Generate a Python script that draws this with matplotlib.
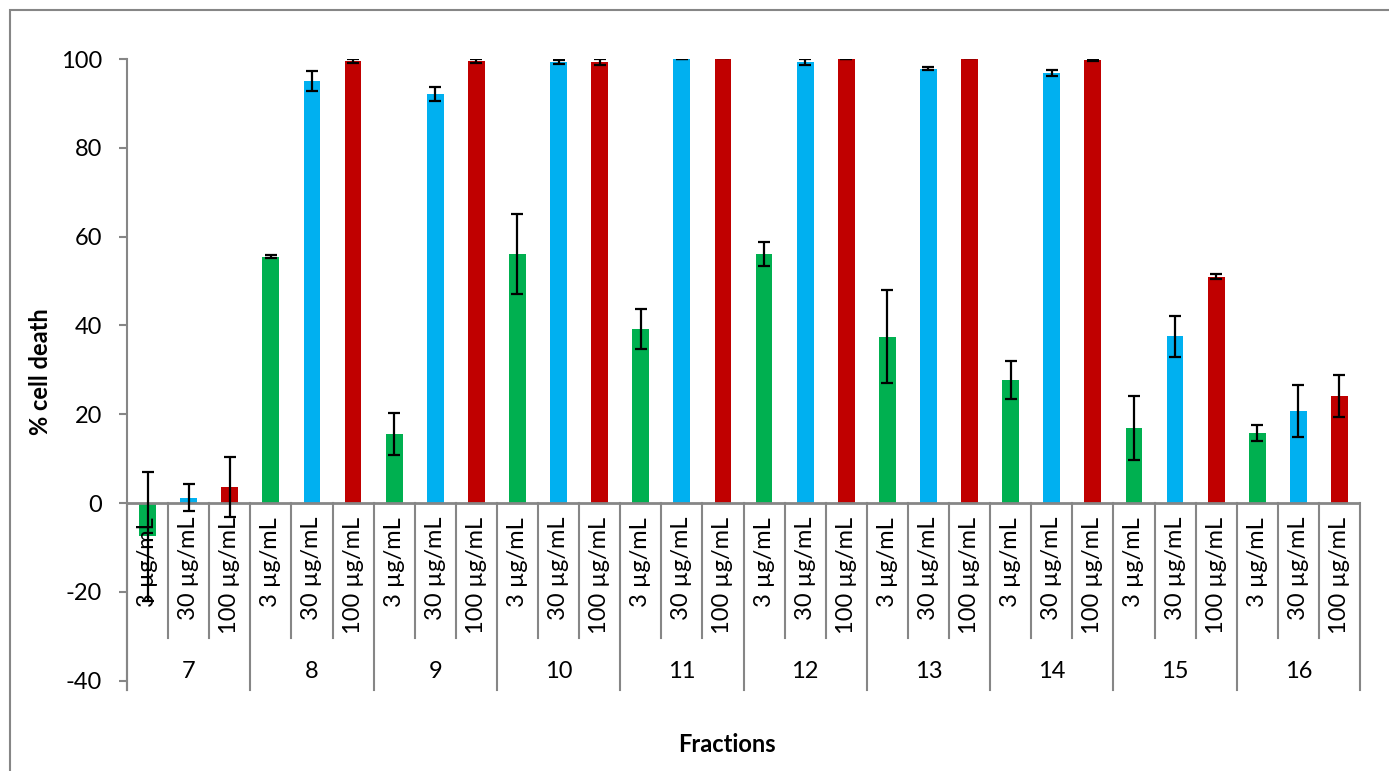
import numpy as np
import matplotlib
matplotlib.use("Agg")
from matplotlib import pyplot as plt
from matplotlib.patches import Rectangle

plt.rcParams['font.family'] = ['Lato', 'DejaVu Sans']
plt.rcParams['axes.unicode_minus'] = False

fractions = ['7', '8', '9', '10', '11', '12', '13', '14', '15', '16']
doses = ['3 µg/mL', '30 µg/mL', '100 µg/mL']
colors = ['#00B050', '#00B0F0', '#C00000']

# mean % cell death per fraction, one list per dose
death_3 = [-7.5, 55.5, 15.5, 56.0, 39.2, 56.0, 37.5, 27.7, 16.9, 15.8]
death_30 = [1.2, 95.0, 92.1, 99.3, 100.0, 99.3, 97.8, 96.8, 37.6, 20.7]
death_100 = [3.6, 99.5, 99.5, 99.3, 100.3, 100.0, 100.3, 99.7, 51.0, 24.1]
# standard deviations
sd_3 = [14.5, 0.3, 4.7, 9.0, 4.6, 2.7, 10.4, 4.3, 7.2, 1.8]
sd_30 = [3.1, 2.2, 1.5, 0.5, 0.1, 0.7, 0.3, 0.7, 4.6, 5.9]
sd_100 = [6.8, 0.5, 0.4, 0.6, 0.0, 0.1, 0.0, 0.2, 0.6, 4.8]

means = [death_3, death_30, death_100]
sds = [sd_3, sd_30, sd_100]

fs = 17

fig = plt.figure(figsize=(13.89, 7.71), dpi=100)
ax = fig.add_axes([127/1389, 1 - 690/771, (1360 - 127)/1389, (690 - 59)/771])

n_dose = len(doses)
n_frac = len(fractions)
for j in range(n_dose):
    x = np.arange(n_frac) * n_dose + j
    ax.bar(x, means[j], width=0.41, color=colors[j], zorder=2)
    ax.errorbar(x, means[j], yerr=sds[j], fmt='none', ecolor='black',
                elinewidth=1.6, capsize=4.5, capthick=1.6, zorder=4)

ymin = -42.1
ax.set_xlim(-0.5, n_frac * n_dose - 0.5)
ax.set_ylim(ymin, 100)
ax.set_yticks(np.arange(-40, 101, 20))
ax.set_xticks([])

gray = '#868686'
for s in ['top', 'right', 'bottom']:
    ax.spines[s].set_visible(False)
ax.spines['left'].set_color(gray)
ax.spines['left'].set_linewidth(1.5)
ax.tick_params(axis='y', colors=gray, length=6, width=1.5, pad=12,
               labelsize=fs, labelcolor='black')

# category axis drawn at zero
ax.axhline(0, color=gray, lw=2, zorder=3)
for k in range(n_frac * n_dose + 1):
    xs = k - 0.5
    if k % n_dose == 0:
        ax.plot([xs, xs], [0, ymin], color=gray, lw=1.5, clip_on=False, zorder=1)
    else:
        ax.plot([xs, xs], [0, -30.4], color=gray, lw=1.5, clip_on=False, zorder=1)

for i in range(n_frac):
    for j in range(n_dose):
        ax.annotate(doses[j], (i * n_dose + j, 0), xytext=(0, -10),
                    textcoords='offset points', rotation=90, ha='center',
                    va='top', fontsize=fs, zorder=3)
    ax.text(i * n_dose + 1, -38.0, fractions[i], ha='center', va='center',
            fontsize=fs)

fig.text(40/1389, 1 - 372/771, '% cell death', rotation=90, ha='center',
         va='center', fontsize=fs, fontweight='bold')
fig.text(727/1389, 1 - 745/771, 'Fractions', ha='center', va='center',
         fontsize=fs, fontweight='bold')

fig.patches.append(Rectangle((10/1389, -0.1), 1.2, 1.1 - 10/771,
                             transform=fig.transFigure, fill=False,
                             edgecolor=gray, lw=1.5))

fig.savefig('out.png', dpi=100)
